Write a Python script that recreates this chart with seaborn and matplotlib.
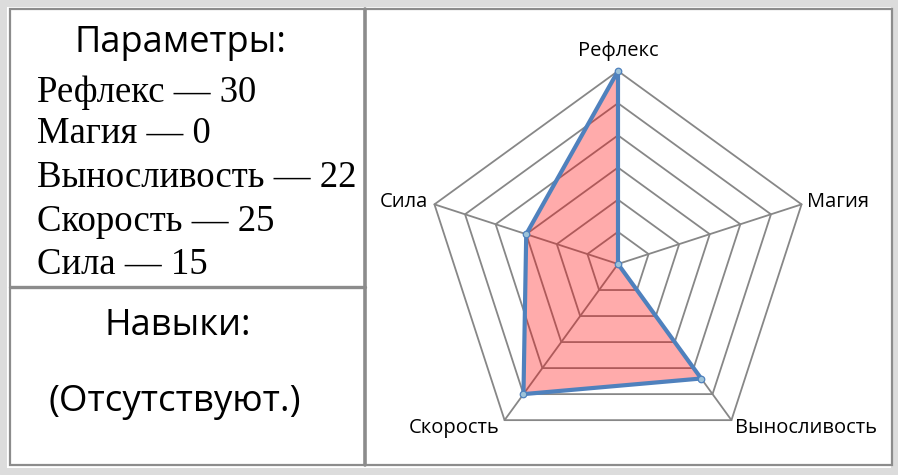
import numpy as np
import pandas as pd
import matplotlib
matplotlib.use("Agg")
import matplotlib.pyplot as plt
import seaborn as sns
from matplotlib.patches import Rectangle
from matplotlib.lines import Line2D

categories = ["Рефлекс", "Магия", "Выносливость", "Скорость", "Сила"]
values = [30, 0, 22, 25, 15]
rings = [5, 10, 15, 20, 25, 30]
skills_title = "Навыки:"
skills_text = "(Отсутствуют.)"
params_title = "Параметры:"

sns.set_theme(style="white")
plt.rcParams["font.family"] = ["Open Sans", "DejaVu Sans"]

W, H = 900, 477
fig = plt.figure(figsize=(W / 100, H / 100), dpi=100)
fig.patch.set_facecolor("white")


def fx(px):
    return px / W


def fy(py):
    return 1 - py / H


# frames
fig.add_artist(Rectangle((fx(3), fy(472)), fx(894) - fx(3), fy(4) - fy(472),
                         transform=fig.transFigure, fill=False, ec="#dcdcdc", lw=5))
fig.add_artist(Rectangle((fx(9.5), fy(466)), fx(891.5) - fx(9.5), fy(10) - fy(466),
                         transform=fig.transFigure, fill=False, ec="#8c8c8c", lw=1.6))
fig.add_artist(Line2D([fx(365), fx(365)], [fy(10), fy(466)], transform=fig.transFigure,
                      color="#8c8c8c", lw=2.6))
fig.add_artist(Line2D([fx(9.5), fx(365)], [fy(288), fy(288)], transform=fig.transFigure,
                      color="#8c8c8c", lw=2.4))

# left panel text
sans = ["Open Sans", "DejaVu Sans"]
fig.text(fx(180), fy(43), params_title, ha="center", va="center", fontsize=26,
         family=sans, color="black")
serif = ["Liberation Serif", "DejaVu Serif"]
line_y = [93, 134, 178, 222, 265]
for name, val, y in zip(categories, values, line_y):
    fig.text(fx(37), fy(y), f"{name} \u2014 {val}", ha="left", va="center",
             fontsize=26.5, family=serif, color="black")
fig.text(fx(178), fy(326), skills_title, ha="center", va="center", fontsize=26,
         family=sans, color="black")
fig.text(fx(175), fy(402), skills_text, ha="center", va="center", fontsize=26.5,
         family=sans, color="black")

# radar panel
cx, cy, R = 618, 265, 193
left, right, top, bottom = 367, 890, 11, 465
ax = fig.add_axes([fx(left), fy(bottom), fx(right) - fx(left), fy(top) - fy(bottom)])
k = rings[-1] / R
ax.set_xlim((left - cx) * k, (right - cx) * k)
ax.set_ylim(-(bottom - cy) * k, (cy - top) * k)
ax.axis("off")

n = len(categories)
ang = np.pi / 2 - 2 * np.pi * np.arange(n) / n
ux, uy = np.cos(ang), np.sin(ang)

grid_c = "#878787"
for r in rings:
    ax.plot(np.append(ux, ux[0]) * r, np.append(uy, uy[0]) * r, color=grid_c, lw=1.3, zorder=1)
for i in range(n):
    ax.plot([0, ux[i] * rings[-1]], [0, uy[i] * rings[-1]], color=grid_c, lw=1.3, zorder=1)

v = np.array(values, dtype=float)
df = pd.DataFrame({"x": ux * v, "y": uy * v, "cat": categories})
ax.fill(df["x"], df["y"], color="#ff0000", alpha=0.33, lw=0, zorder=2)
ax.plot(np.append(df["x"], df["x"][0]), np.append(df["y"], df["y"][0]),
        color="#4f81bd", lw=3, zorder=3, solid_joinstyle="round")
sns.scatterplot(data=df, x="x", y="y", ax=ax, s=22, color="#9dc3d9",
                edgecolor="#4f81bd", linewidth=0.9, zorder=4, legend=False)
ax.set_xlabel("")
ax.set_ylabel("")

offs = {0: ("center", "center", 0, 21), 1: ("left", "center", 5, 3),
        2: ("center", "center", 75, -7), 3: ("center", "center", -50, -7),
        4: ("right", "center", -6, 3)}
for i, name in enumerate(categories):
    ha, va, dx, dy = offs[i]
    ax.text(ux[i] * rings[-1] + dx * k, uy[i] * rings[-1] + dy * k, name,
            ha=ha, va=va, fontsize=14.5, color="black")

fig.savefig("out.png", dpi=100, facecolor="white")
